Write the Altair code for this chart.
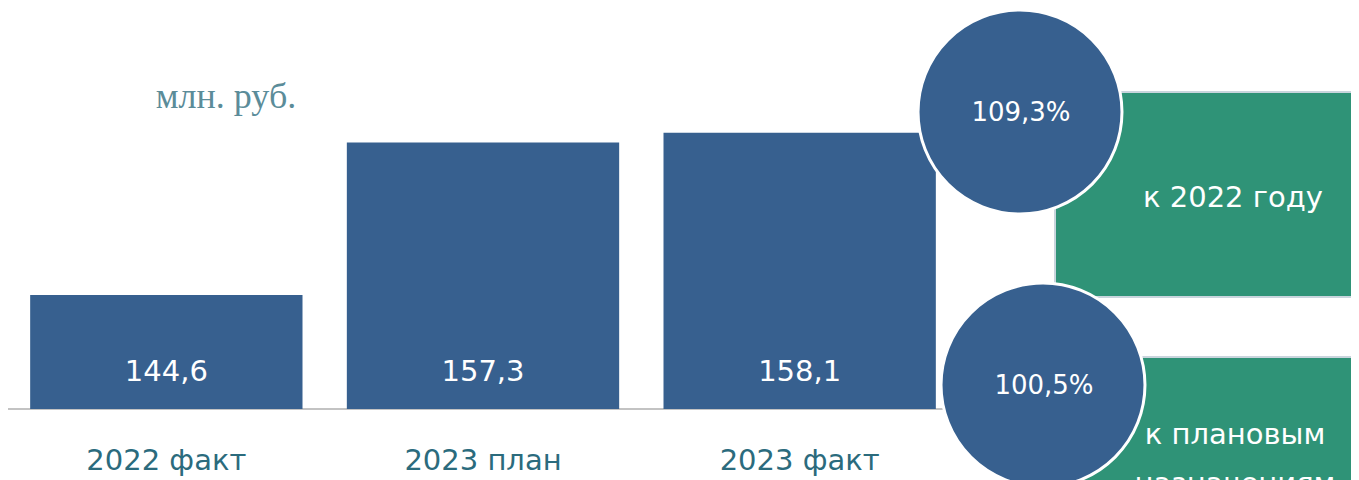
import altair as alt
import pandas as pd

# ---- data ----
categories = ["2022 факт", "2023 план", "2023 факт"]
values = [144.6, 157.3, 158.1]
pct_values = [109.3, 100.5]
pct_captions = [["к 2022 году"], ["к плановым", "назначениям"]]
unit_label = "млн. руб."

BLUE = "#37608f"
GREEN = "#2f9377"
LABEL_BLUE = "#2b6b7d"
HAND_FONT = "DejaVu Sans"

df = pd.DataFrame({
    "cat": categories,
    "val": values,
    "lbl": [f"{v:.1f}".replace(".", ",") for v in values],
})

x_enc = alt.X("cat:N", sort=categories, axis=None,
              scale=alt.Scale(range=[0, 950], paddingInner=0.14, paddingOuter=0.07))
y_scale = alt.Scale(domain=[135.1, 168.5], range=[401, 0], zero=False, nice=False)

base = alt.Chart(df)

baseline = base.mark_rule(color="#c3c3c3", strokeWidth=2).encode(
    x=alt.value(-1), x2=alt.value(945), y=alt.value(401)
)

bars = base.mark_bar(color=BLUE).encode(
    x=x_enc,
    y=alt.Y("val:Q", scale=y_scale, axis=None),
    y2=alt.datum(135.1),
)

val_text = base.mark_text(color="white", font=HAND_FONT, fontSize=29,
                          baseline="middle").encode(
    x=x_enc, y=alt.value(364), text="lbl:N"
)

cat_text = base.mark_text(color=LABEL_BLUE, font=HAND_FONT, fontSize=29,
                          baseline="middle").encode(
    x=x_enc, y=alt.value(453), text="cat:N"
)

unit = alt.Chart(pd.DataFrame({"t": [unit_label]})).mark_text(
    font="Liberation Serif", fontSize=36, color="#5b8c99", baseline="middle"
).encode(x=alt.value(218), y=alt.value(89), text="t:N")

# annotation boxes and circles
rect_pos = [(1047, 1360, 84, 289), (1047, 1360, 349, 520)]
circle_pos = [(1012, 104), (1035, 377)]
caption_pos = [[(1225, 190)], [(1227, 427), (1227, 476)]]

layers = [baseline, bars, val_text, cat_text, unit]
for i, p in enumerate(pct_values):
    x0, x1, y0, y1 = rect_pos[i]
    d = pd.DataFrame({"p": [p]})
    layers.append(alt.Chart(d).mark_rect(color=GREEN, stroke="#c9d5dd", strokeWidth=2).encode(
        x=alt.value(x0), x2=alt.value(x1), y=alt.value(y0), y2=alt.value(y1)))
    for cap, (cx, cy) in zip(pct_captions[i], caption_pos[i]):
        layers.append(alt.Chart(pd.DataFrame({"t": [cap]})).mark_text(
            color="white", font=HAND_FONT, fontSize=29,
            baseline="middle").encode(
            x=alt.value(cx), y=alt.value(cy), text="t:N"))
for i, p in enumerate(pct_values):
    d = pd.DataFrame({"p": [p], "lbl": [f"{p:.1f}".replace(".", ",") + "%"]})
    cx, cy = circle_pos[i]
    layers.append(alt.Chart(d).mark_circle(color=BLUE, opacity=1, stroke="white",
                                           strokeWidth=3, size=41600).encode(
        x=alt.value(cx), y=alt.value(cy)))
    layers.append(alt.Chart(d).mark_text(color="white", font=HAND_FONT, fontSize=26,
                                         baseline="middle").encode(
        x=alt.value(cx + 1), y=alt.value(cy + 1), text="lbl:N"))

chart = alt.layer(*layers).properties(
    width=1343, height=472, padding=0,
    autosize=alt.AutoSizeParams(type="none"),
).configure_view(stroke=None)

chart.save("out.html", embed_options={"renderer": "svg", "actions": False})
